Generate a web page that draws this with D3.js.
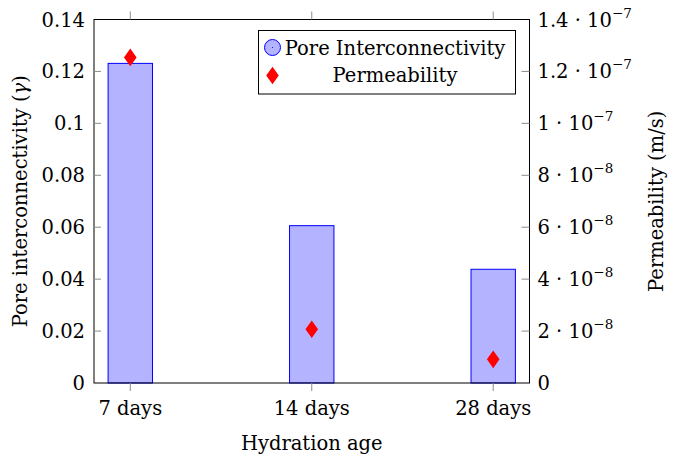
<!DOCTYPE html>
<html><head><meta charset="utf-8">
<script src="https://cdn.jsdelivr.net/npm/d3@7"></script>
<style>body{margin:0;background:#fff}svg{display:block}</style>
</head><body>
<script>
const categories = ["7 days", "14 days", "28 days"];
const interconnectivity = [0.1231, 0.0606, 0.0438];
const permeability = [1.254e-7, 2.07e-8, 9.1e-9];
const leftTicks = [0, 0.02, 0.04, 0.06, 0.08, 0.1, 0.12, 0.14];
const leftTickLabels = ["0", "0.02", "0.04", "0.06", "0.08", "0.1", "0.12", "0.14"];
const rightTicks = [0, 2e-8, 4e-8, 6e-8, 8e-8, 1e-7, 1.2e-7, 1.4e-7];
const rightMantissa = ["0", "2", "4", "6", "8", "1", "1.2", "1.4"];
const rightExponent = [null, "−8", "−8", "−8", "−8", "−7", "−7", "−7"];
const legendLabels = ["Pore Interconnectivity", "Permeability"];

const W = 678, H = 457;
const m = {left: 94, right: 678 - 529.5, top: 19.5, bottom: 457 - 383};
const svg = d3.select("body").append("svg").attr("width", W).attr("height", H)
  .attr("font-family", "DejaVu Serif");
const g = svg.append("g");
const FS = 19.5;

const x = d3.scalePoint().domain(categories).range([m.left, W - m.right]).padding(0.2);
const yL = d3.scaleLinear().domain([0, 0.14]).range([H - m.bottom, m.top]);
const yR = d3.scaleLinear().domain([0, 1.4e-7]).range([H - m.bottom, m.top]);
const barW = 44.4;

g.selectAll("rect.bar").data(interconnectivity).join("rect")
  .attr("x", (d, i) => x(categories[i]) - barW / 2)
  .attr("y", d => yL(d))
  .attr("width", barW)
  .attr("height", d => yL(0) - yL(d))
  .attr("fill", "#b3b3ff").attr("stroke", "#0000ff").attr("stroke-width", 1);

const diamond = (cx, cy, hw, hh) => `M${cx},${cy - hh}L${cx + hw},${cy}L${cx},${cy + hh}L${cx - hw},${cy}Z`;
g.selectAll("path.pm").data(permeability).join("path")
  .attr("d", (d, i) => diamond(x(categories[i]), yR(d), 6.3, 8.8))
  .attr("fill", "#ff0000");

const x0 = m.left, x1 = W - m.right, y0 = H - m.bottom, y1 = m.top;
g.append("rect").attr("x", x0).attr("y", y1).attr("width", x1 - x0).attr("height", y0 - y1)
  .attr("fill", "none").attr("stroke", "#000").attr("stroke-width", 1);

const tickCol = "#8c8c8c";
categories.forEach(c => {
  g.append("line").attr("x1", x(c)).attr("x2", x(c)).attr("y1", y0).attr("y2", y0 + 8).attr("stroke", tickCol);
  g.append("line").attr("x1", x(c)).attr("x2", x(c)).attr("y1", y1).attr("y2", y1 - 8).attr("stroke", tickCol);
  g.append("text").attr("x", x(c)).attr("y", y0 + 32).attr("text-anchor", "middle").attr("font-size", FS).text(c);
});
leftTicks.forEach((t, i) => {
  if (i > 0 && i < leftTicks.length - 1)
    g.append("line").attr("x1", x0).attr("x2", x0 + 7).attr("y1", yL(t)).attr("y2", yL(t)).attr("stroke", tickCol);
  g.append("text").attr("x", x0 - 9).attr("y", yL(t) + 7).attr("text-anchor", "end").attr("font-size", FS).text(leftTickLabels[i]);
});
rightTicks.forEach((t, i) => {
  if (i > 0 && i < rightTicks.length - 1)
    g.append("line").attr("x1", x1).attr("x2", x1 - 8).attr("y1", yR(t)).attr("y2", yR(t)).attr("stroke", tickCol);
  const tx = g.append("text").attr("x", x1 + 8).attr("y", yR(t) + 7).attr("font-size", FS);
  if (rightExponent[i] === null) { tx.text(rightMantissa[i]); }
  else {
    tx.append("tspan").text(rightMantissa[i] + " · 10");
    tx.append("tspan").attr("font-size", 13.5).attr("dy", -9).text(rightExponent[i]);
  }
});

g.append("text").attr("x", (x0 + x1) / 2).attr("y", 450).attr("text-anchor", "middle").attr("font-size", FS).text("Hydration age");
const ll = g.append("text").attr("transform", `translate(27,${(y0 + y1) / 2}) rotate(-90)`).attr("text-anchor", "middle").attr("font-size", FS);
ll.append("tspan").text("Pore interconnectivity (");
ll.append("tspan").attr("font-style", "italic").text("γ");
ll.append("tspan").text(")");
g.append("text").attr("transform", `translate(663,${(y0 + y1) / 2}) rotate(-90)`).attr("text-anchor", "middle").attr("font-size", FS).text("Permeability (m/s)");

const lg = g.append("g");
lg.append("rect").attr("x", 258.5).attr("y", 30.5).attr("width", 257).attr("height", 63.5).attr("fill", "#fff").attr("stroke", "#000").attr("stroke-width", 1);
lg.append("circle").attr("cx", 272.5).attr("cy", 47.5).attr("r", 8).attr("fill", "#b3b3ff").attr("stroke", "#0000ff");
lg.append("circle").attr("cx", 272.5).attr("cy", 47.5).attr("r", 0.6).attr("fill", "#0000ff");
lg.append("path").attr("d", diamond(272.5, 75.5, 6.3, 8.8)).attr("fill", "#ff0000");
lg.append("text").attr("x", 395).attr("y", 55).attr("text-anchor", "middle").attr("font-size", FS).text(legendLabels[0]);
lg.append("text").attr("x", 395).attr("y", 82).attr("text-anchor", "middle").attr("font-size", FS).text(legendLabels[1]);
</script>
</body></html>
